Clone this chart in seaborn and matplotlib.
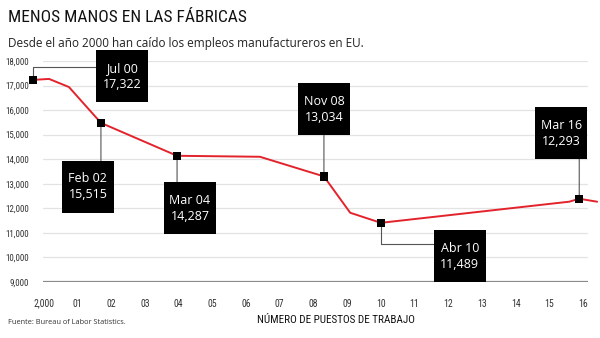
import matplotlib
matplotlib.use("Agg")
import matplotlib.pyplot as plt
from matplotlib import font_manager
import seaborn as sns
import pandas as pd

# ---- data ----
years = [1999.67, 2000.15, 2000.74, 2001.69, 2003.95, 2006.41, 2008.31,
         2009.09, 2010.00, 2015.59, 2015.89, 2016.42]
jobs = [17230, 17270, 16940, 15480, 14140, 14100, 13300,
        11820, 11410, 12270, 12390, 12270]

ann_years = [1999.67, 2001.69, 2003.95, 2008.31, 2010.00, 2015.89]
ann_jobs = [17230, 15480, 14140, 13300, 11410, 12390]
ann_labels = ["Jul 00\n17,322", "Feb 02\n15,515", "Mar 04\n14,287",
              "Nov 08\n13,034", "Abr 10\n11,489", "Mar 16\n12,293"]

x_ticks = list(range(2000, 2017))
x_ticklabels = ["2,000", "01", "02", "03", "04", "05", "06", "07", "08",
                "09", "10", "11", "12", "13", "14", "15", "16"]
y_ticks = [9000, 10000, 11000, 12000, 13000, 14000, 15000, 16000, 17000, 18000]
y_ticklabels = ["9,000", "10,000", "11,000", "12,000", "13,000", "14,000",
                "15,000", "16,000", "17,000", "18,000"]

title = "MENOS MANOS EN LAS FÁBRICAS"
subtitle = "Desde el año 2000 han caído los empleos manufactureros en EU."
xlabel = "NÚMERO DE PUESTOS DE TRABAJO"
source = "Fuente: Bureau of Labor Statistics."

# ---- styles / layout ----
# box centre offsets and connector start offsets (pixels, from the marker)
box_off = [(89, 3.5), (-13, -64), (13, -52.5), (0, 67), (79, -33.5), (-18, 65.5)]
conn_off = [(64, 13), (0, -38), (0, -27), (0, 41), (53, -21), (0, 40)]
conn_style = ["angle,angleA=0,angleB=90", "arc3", "arc3", "arc3",
              "angle,angleA=0,angleB=90", "arc3"]

sns.set_theme(style="white")
names = {f.name for f in font_manager.fontManager.ttflist}
cond = next((n for n in ["Roboto Condensed", "Liberation Sans Narrow",
                         "Open Sans Condensed", "DejaVu Sans Condensed"]
             if n in names), "DejaVu Sans")
body = "Open Sans" if "Open Sans" in names else "DejaVu Sans"
plt.rcParams["font.family"] = [body, "DejaVu Sans"]

RED = "#e3232b"
fig = plt.figure(figsize=(6, 3.38), dpi=100)
ax = fig.add_axes([43 / 600, 1 - 282 / 338, (588 - 43) / 600, (282 - 61) / 338])

df = pd.DataFrame({"year": years, "jobs": jobs})
sns.lineplot(data=df, x="year", y="jobs", ax=ax, color=RED, lw=1.4,
             clip_on=False, zorder=3, sort=False, estimator=None)
dfa = pd.DataFrame({"year": ann_years, "jobs": ann_jobs})
sns.scatterplot(data=dfa, x="year", y="jobs", ax=ax, marker="s", s=36,
                color="black", edgecolor="none", clip_on=False, zorder=6)

ax.set_xlim(1999.97, 2016.15)
ax.set_ylim(9000, 18000)
ax.set_xticks(x_ticks)
ax.set_xticklabels(x_ticklabels, fontfamily=cond, fontsize=7, color="#333333")
ax.set_yticks(y_ticks)
ax.set_yticklabels(y_ticklabels, fontfamily=cond, fontsize=6.5, color="#333333")
ax.tick_params(axis="x", length=0, pad=12)
ax.tick_params(axis="y", length=0, pad=10)
ax.set_xlabel("")
ax.set_ylabel("")
for s in ax.spines.values():
    s.set_visible(False)
ax.grid(axis="y", color="#e3e3e3", lw=0.9)
ax.grid(axis="x", visible=False)
ax.axhline(9000, color="#8a8a8a", lw=1.6, zorder=2)
ax.set_facecolor("none")

for xv, yv, lab, bo, co, cs in zip(ann_years, ann_jobs, ann_labels,
                                   box_off, conn_off, conn_style):
    ax.annotate("", xy=(xv, yv), xytext=co, textcoords="offset pixels",
                arrowprops=dict(arrowstyle="-", connectionstyle=cs,
                                shrinkA=0, shrinkB=0, color="#555555", lw=0.8),
                zorder=4, annotation_clip=False)
    ax.annotate(lab, xy=(xv, yv), xytext=bo, textcoords="offset pixels",
                ha="center", va="center", color="white", fontsize=9,
                linespacing=1.3, zorder=8, annotation_clip=False,
                bbox=dict(boxstyle="square,pad=0", fc="none", ec="none"))
    ax.plot([xv], [yv], marker="s", markersize=52 * 0.72, color="black",
            markeredgewidth=0, clip_on=False, zorder=7,
            transform=matplotlib.transforms.offset_copy(
                ax.transData, fig=fig, x=bo[0], y=bo[1], units="dots"))

fig.text(8 / 600, 1 - 18 / 338, title, fontfamily=cond, fontsize=12.5,
         color="#111111", va="center", ha="left")
fig.text(8 / 600, 1 - 43 / 338, subtitle, fontsize=8.5, color="#222222",
         va="center", ha="left")
fig.text(336 / 600, 1 - 320 / 338, xlabel, fontfamily=cond, fontsize=8,
         color="#111111", va="center", ha="center")
fig.text(8 / 600, 1 - 322 / 338, source, fontsize=5.3, color="#333333",
         va="center", ha="left")

fig.savefig("out.png", dpi=100, facecolor="white")
